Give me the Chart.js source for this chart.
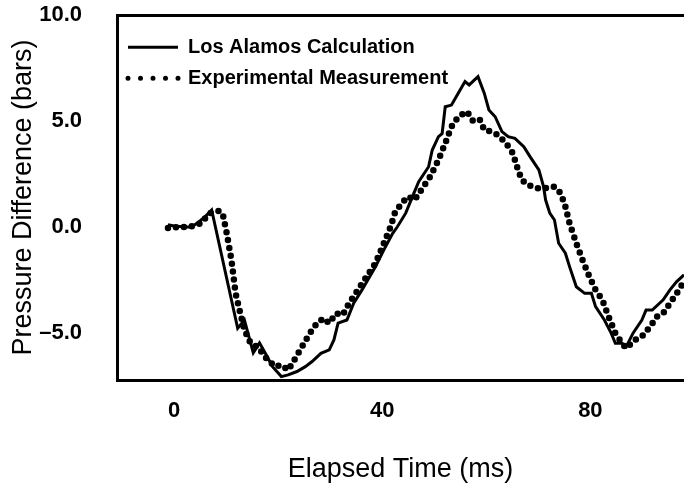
<!DOCTYPE html>
<html>
<head>
<meta charset="utf-8">
<script src="https://cdn.jsdelivr.net/npm/chart.js@4.4.1/dist/chart.umd.min.js"></script>
<style>
  html, body { margin: 0; padding: 0; background: #fff; }
  #wrap { width: 684px; height: 493px; }
</style>
</head>
<body>
<div id="wrap"><canvas id="c" width="684" height="493"></canvas></div>
<script>
// ---- Data ----
const seriesNames = ['Los Alamos Calculation', 'Experimental Measurement'];

const calcTimes = [-1.2, 0, 2, 3.4, 5, 6, 7.2, 12.2, 13.5, 15.2, 16.4, 17.7, 18.9, 20.6, 21.9, 23.6,
  25.2, 26.5, 28.2, 29.8, 30.7, 31.5, 33.2, 34.5, 36.1, 38.7, 40.3, 42.0, 42.9, 44.5, 45.8, 47.0,
  48.9, 49.6, 50.8, 51.5, 52.1, 53.3, 54.6, 55.9, 56.7, 58.4, 59.6, 60.5, 61.7, 63.0, 64.2, 65.5,
  67.2, 68.4, 70.1, 71.0, 71.4, 72.2, 73.1, 73.9, 75.2, 76.0, 77.3, 78.9, 80.2, 81.0, 82.7, 84.0,
  84.8, 86.1, 86.9, 88.2, 89.9, 90.7, 91.9, 94.0, 95.3, 96.6, 98];
const calcValues = [0.1, 0.05, 0.0, 0.0, 0.3, 0.5, 0.8, -4.78, -4.4, -5.94, -5.47, -6.04, -6.59, -7.06, -6.98, -6.82,
  -6.59, -6.35, -5.96, -5.8, -5.33, -4.54, -4.39, -3.6, -2.97, -1.87, -1.08, -0.3, 0.01, 0.65, 1.43, 2.14,
  2.84, 3.63, 4.26, 4.4, 5.67, 5.75, 6.31, 6.86, 6.7, 7.09, 6.31, 5.52, 5.2, 4.5, 4.26, 4.18,
  3.79, 3.32, 2.69, 1.9, 1.27, 0.65, 0.33, -0.77, -1.24, -1.87, -2.82, -3.13, -3.13, -3.76, -4.39, -5.01,
  -5.49, -5.49, -5.65, -5.01, -4.39, -3.92, -3.92, -3.44, -2.97, -2.58, -2.26];

const expTimes = [-1.2, 1, 3, 5.1, 6.8, 8.5, 9.3, 10.1, 11.0, 11.8, 12.7, 13.5, 14.7, 16.0, 17.7, 19.4,
  20.6, 21.9, 23.1, 24.4, 25.7, 26.9, 28.6, 29.8, 31.1, 32.4, 33.6, 35.3, 37.0, 38.7, 40.3, 41.6,
  42.4, 43.7, 45.0, 46.2, 47.5, 49.2, 50.8, 52.1, 53.3, 54.6, 56.3, 57.5, 58.8, 59.6, 60.9, 62.2,
  63.8, 65.1, 65.9, 66.8, 68.0, 69.7, 71.4, 73.1, 74.3, 75.2, 76.0, 77.3, 78.5, 79.8, 81.0, 82.3,
  83.5, 84.8, 86.1, 86.9, 88.6, 89.9, 91.5, 92.8, 94.0, 95.3, 96.6, 98];
const expValues = [-0.05, 0.0, 0.0, 0.17, 0.65, 0.75, 0.65, -0.3, -1.56, -3.13, -4.07, -4.86, -5.49, -5.65, -6.19, -6.59,
  -6.51, -6.75, -6.27, -5.72, -5.17, -4.7, -4.31, -4.54, -4.07, -4.15, -3.6, -2.97, -2.34, -1.71, -0.77, 0.01,
  0.65, 1.12, 1.43, 1.27, 1.75, 2.37, 3.16, 3.95, 4.73, 5.2, 5.44, 4.97, 5.05, 4.58, 4.5, 4.34,
  3.95, 3.48, 2.84, 2.22, 1.98, 1.83, 1.83, 1.9, 1.59, 0.96, 0.17, -0.77, -1.56, -2.34, -2.97, -3.44,
  -4.23, -5.01, -5.49, -5.72, -5.33, -5.17, -4.7, -4.23, -4.07, -3.6, -3.13, -2.58];

const xTickValues = [0, 40, 80];
const yTickValues = [10, 5, 0, -5];
const xTitle = 'Elapsed Time (ms)';
const yTitle = 'Pressure Difference (bars)';

// ---- Chart ----
const toPoints = (xs, ys) => xs.map((x, i) => ({ x: x, y: ys[i] }));
const SANS = "'Liberation Sans', Arial, sans-serif";

Chart.defaults.color = '#000';
Chart.defaults.font.family = SANS;

new Chart(document.getElementById('c'), {
  type: 'line',
  data: {
    datasets: [
      {
        label: seriesNames[0],
        data: toPoints(calcTimes, calcValues),
        borderColor: '#000',
        borderWidth: 3,
        pointRadius: 0,
        tension: 0,
        fill: false
      },
      {
        label: seriesNames[1],
        data: toPoints(expTimes, expValues),
        borderColor: '#000',
        borderWidth: 6.5,
        borderDash: [0, 8],
        borderCapStyle: 'round',
        pointRadius: 0,
        tension: 0,
        fill: false
      }
    ]
  },
  options: {
    responsive: false,
    animation: false,
    devicePixelRatio: 1,
    layout: { padding: { top: 15, left: 0, right: 0, bottom: 0 } },
    plugins: {
      tooltip: { enabled: false },
      legend: {
        position: 'chartArea',
        fullSize: false,
        align: 'start',
        title: { display: true, text: '', font: { size: 1 }, padding: { top: 25, bottom: 0 } },
        labels: {
          color: '#000',
          font: { family: SANS, size: 20, weight: 'bold' },
          boxWidth: 50,
          boxHeight: 0,
          padding: 11,
          generateLabels: (chart) => [
            { text: seriesNames[0], fillStyle: 'rgba(0,0,0,0)', strokeStyle: '#000', lineWidth: 3,
              lineDash: [], lineCap: 'butt', fontColor: '#000', datasetIndex: 0, hidden: false },
            { text: seriesNames[1], fillStyle: 'rgba(0,0,0,0)', strokeStyle: '#000', lineWidth: 5,
              lineDash: [0, 12.5], lineCap: 'round', fontColor: '#000', datasetIndex: 1, hidden: false }
          ]
        }
      }
    },
    scales: {
      x: {
        type: 'linear',
        min: -11,
        max: 98,
        afterBuildTicks: (s) => { s.ticks = xTickValues.map(v => ({ value: v })); },
        afterFit: (s) => { s.height = 113; s.paddingLeft = 0; s.paddingRight = 0; },
        grid: { display: false, drawTicks: false },
        border: { display: true, color: '#000', width: 3 },
        ticks: {
          padding: 18,
          font: { family: SANS, size: 22, weight: 'bold' },
          color: '#000',
          maxRotation: 0,
          callback: (v) => String(v)
        },
        title: {
          display: true,
          text: xTitle,
          font: { family: SANS, size: 27, weight: 'normal' },
          color: '#000',
          padding: { top: 0, bottom: 7 }
        }
      },
      y: {
        type: 'linear',
        min: -7.22,
        max: 10,
        afterBuildTicks: (s) => { s.ticks = yTickValues.map(v => ({ value: v })); },
        afterFit: (s) => { s.width = 117; s.paddingTop = 0; s.paddingBottom = 0; },
        grid: {
          display: true,
          drawTicks: false,
          color: (ctx) => (ctx.tick && ctx.tick.value === 10) ? '#000' : 'rgba(0,0,0,0)',
          lineWidth: (ctx) => (ctx.tick && ctx.tick.value === 10) ? 3 : 0
        },
        border: { display: true, color: '#000', width: 3 },
        ticks: {
          padding: 35,
          font: { family: SANS, size: 22, weight: 'bold' },
          color: '#000',
          callback: (v) => (v < 0 ? '\u2013' + Math.abs(v).toFixed(1) : v.toFixed(1))
        },
        title: {
          display: true,
          text: yTitle,
          font: { family: SANS, size: 27, weight: 'normal' },
          color: '#000',
          padding: { top: 7, bottom: 0 }
        }
      }
    }
  }
});
</script>
</body>
</html>
